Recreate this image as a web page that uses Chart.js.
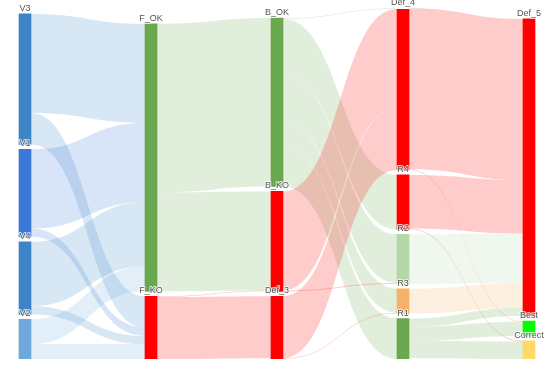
<!DOCTYPE html>
<html>
<head>
<meta charset="utf-8">
<script src="https://cdn.jsdelivr.net/npm/chart.js@4.4.0/dist/chart.umd.min.js"></script>
<style>
  html, body { margin: 0; padding: 0; background: #fff; }
  #wrap { width: 550px; height: 376px; }
</style>
</head>
<body>
<div id="wrap"><canvas id="sankey"></canvas></div>
<script>
// Nodes, column by column, top to bottom
const nodeLabels = ['V3', 'V1', 'V4', 'V2', 'F_OK', 'F_KO', 'B_OK', 'B_KO', 'Def_3',
                    'Def_4', 'R4', 'R2', 'R3', 'R1', 'Def_5', 'Best', 'Correct'];
const nodeColumns = [0, 0, 0, 0, 1, 1, 2, 2, 2, 3, 3, 3, 3, 3, 4, 4, 4];
const nodeColors = ['#3d85c6', '#3c78d8', '#3d85c6', '#6fa8dc', '#6aa84f', '#ff0000',
                    '#6aa84f', '#ff0000', '#ff0000', '#ff0000', '#ff0000', '#b6d7a8',
                    '#f6b26b', '#6aa84f', '#ff0000', '#00ff00', '#ffd966'];

// Flows (source -> target : value)
const linkSources = [0, 0, 1, 1, 2, 2, 3, 3, 4, 4, 5, 5, 6, 6, 6, 6, 6, 7, 7, 8, 8, 9, 9, 10, 10, 11, 12, 13, 13, 13];
const linkTargets = [4, 5, 4, 5, 4, 5, 4, 5, 6, 7, 7, 8, 9, 10, 11, 12, 13, 9, 11, 9, 12, 14, 15, 14, 16, 14, 14, 14, 15, 16];
const linkValues  = [60, 19, 48, 5, 39, 5, 15, 9, 102, 60, 0.5, 37.5, 0.5, 33, 29.5, 14.5, 24.5, 60, 0.5, 37.5, 0.5,
                     97.5, 0.5, 32.5, 0.5, 30, 15, 5, 8.5, 10.5];

const GAP = 3;          // space between nodes, in value units
const NODE_WIDTH = 12;  // px
const LINK_ALPHA = 0.2;

// Размеры узлов = max(вход, выход)
const inSum = nodeLabels.map(() => 0);
const outSum = nodeLabels.map(() => 0);
linkValues.forEach((v, i) => {
    outSum[linkSources[i]] += v;
    inSum[linkTargets[i]] += v;
});
const nodeValues = nodeLabels.map((_, i) => Math.max(inSum[i], outSum[i]));

// Stack nodes of each column from the bottom (value 0) upwards
const nodeTop = [];
const columns = [...new Set(nodeColumns)];
columns.forEach(c => {
    const ids = nodeLabels.map((_, i) => i).filter(i => nodeColumns[i] === c);
    let cursor = ids.reduce((s, i) => s + nodeValues[i], 0) + GAP * (ids.length - 1);
    ids.forEach(i => {
        nodeTop[i] = cursor;
        cursor -= nodeValues[i] + GAP;
    });
});

// Link offsets inside nodes
const links = linkValues.map((v, i) => ({ s: linkSources[i], t: linkTargets[i], v: v }));
const outCursor = nodeTop.slice();
const inCursor = nodeTop.slice();
links.slice().sort((a, b) => a.s - b.s || a.t - b.t).forEach(l => {
    l.sy = outCursor[l.s];
    outCursor[l.s] -= l.v;
});
links.slice().sort((a, b) => a.t - b.t || a.s - b.s).forEach(l => {
    l.ty = inCursor[l.t];
    inCursor[l.t] -= l.v;
});

function withAlpha(hex, a) {
    const n = parseInt(hex.slice(1), 16);
    return `rgba(${(n >> 16) & 255}, ${(n >> 8) & 255}, ${n & 255}, ${a})`;
}

const sankeyLinks = {
    id: 'sankeyLinks',
    beforeDatasetsDraw(chart) {
        const { ctx, scales: { x, y } } = chart;
        const half = NODE_WIDTH / 2;
        ctx.save();
        links.forEach(l => {
            const x0 = x.getPixelForValue(nodeColumns[l.s]) + half;
            const x1 = x.getPixelForValue(nodeColumns[l.t]) - half;
            const a0 = y.getPixelForValue(l.sy);
            const a1 = y.getPixelForValue(l.sy - l.v);
            const b0 = y.getPixelForValue(l.ty);
            const b1 = y.getPixelForValue(l.ty - l.v);
            const xm = (x0 + x1) / 2;
            ctx.beginPath();
            ctx.moveTo(x0, a0);
            ctx.bezierCurveTo(xm, a0, xm, b0, x1, b0);
            ctx.lineTo(x1, b1);
            ctx.bezierCurveTo(xm, b1, xm, a1, x0, a1);
            ctx.closePath();
            ctx.fillStyle = withAlpha(nodeColors[l.s], LINK_ALPHA);
            ctx.fill();
        });
        ctx.restore();
    }
};

// Подписи узлов над узлами, с белым ореолом
const sankeyLabels = {
    id: 'sankeyLabels',
    afterDatasetsDraw(chart) {
        const { ctx, scales: { x, y } } = chart;
        ctx.save();
        ctx.font = '9px "Liberation Sans", Arial, sans-serif';
        ctx.textAlign = 'center';
        ctx.textBaseline = 'alphabetic';
        ctx.lineJoin = 'round';
        ctx.lineWidth = 2;
        ctx.strokeStyle = 'rgba(255, 255, 255, 0.75)';
        ctx.fillStyle = '#555';
        nodeLabels.forEach((label, i) => {
            const lx = x.getPixelForValue(nodeColumns[i]);
            const ly = y.getPixelForValue(nodeTop[i]) - 3;
            ctx.strokeText(label, lx, ly);
            ctx.fillText(label, lx, ly);
        });
        ctx.restore();
    }
};

const chartCtx = document.getElementById('sankey').getContext('2d');
new Chart(chartCtx, {
    type: 'bar',
    data: {
        datasets: [{
            data: nodeLabels.map((_, i) => ({ x: nodeColumns[i], y: [nodeTop[i] - nodeValues[i], nodeTop[i]] })),
            backgroundColor: nodeColors,
            barThickness: NODE_WIDTH,
            borderWidth: 0
        }]
    },
    options: {
        responsive: true,
        maintainAspectRatio: false,
        animation: false,
        layout: { padding: { left: 12.4, right: 8.4, top: 9, bottom: 17 } },
        scales: {
            x: { type: 'linear', min: -0.1, max: 4.1, offset: false, display: false },
            y: { min: 0, max: 212, display: false }
        },
        plugins: {
            legend: { display: false },
            tooltip: { enabled: false }
        }
    },
    plugins: [sankeyLinks, sankeyLabels]
});
</script>
</body>
</html>
